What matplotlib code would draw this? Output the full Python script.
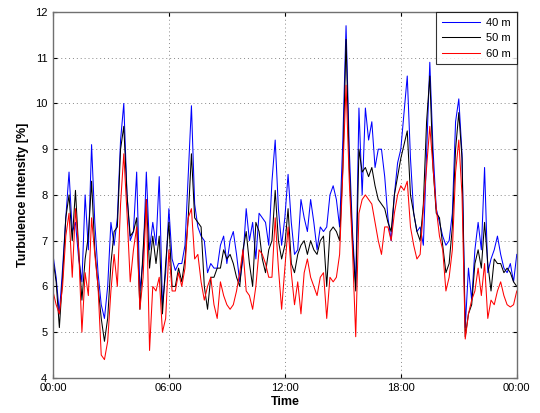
import matplotlib
matplotlib.use("Agg")
import matplotlib.pyplot as plt
import numpy as np

# 10-minute samples over one day (145 samples, 00:00 .. 24:00)
ti_40m = [6.7, 6.2, 5.4, 6.4, 7.5, 8.5, 7.2, 7.4, 6.6, 6.1,
          8.0, 6.8, 9.1, 7.4, 6.3, 5.6, 5.3, 6.0, 7.4, 6.9,
          7.5, 9.2, 10.0, 8.0, 7.0, 7.2, 8.5, 5.9, 6.6, 8.5,
          6.8, 7.4, 6.9, 8.4, 5.6, 6.3, 7.7, 6.6, 6.35, 6.5,
          6.5, 6.9, 8.4, 9.95, 7.8, 7.3, 7.1, 7.0, 6.3, 6.5,
          6.4, 6.4, 6.9, 7.1, 6.5, 7.0, 7.2, 6.7, 6.1, 6.6,
          7.7, 7.0, 7.4, 6.6, 7.6, 7.5, 7.4, 6.9, 8.3, 9.2,
          7.7, 6.9, 7.5, 8.45, 7.4, 6.7, 6.8, 7.9, 7.5, 7.2,
          7.9, 7.4, 6.8, 7.3, 7.2, 7.3, 8.0, 8.2, 7.9, 7.3,
          9.2, 11.7, 9.0, 7.2, 6.0, 9.9, 8.0, 9.9, 9.2, 9.6,
          8.6, 9.0, 9.0, 8.4, 7.5, 7.0, 8.0, 8.7, 9.0, 9.8,
          10.6, 8.8, 7.6, 7.2, 7.3, 6.9, 8.9, 10.9, 9.0, 7.7,
          7.4, 7.1, 6.9, 7.0, 7.6, 9.6, 10.1, 8.9, 5.1, 6.4,
          5.7, 6.8, 7.4, 6.8, 8.6, 6.3, 6.6, 6.8, 7.1, 6.7,
          6.4, 6.3, 6.5, 6.1, 6.7]

ti_50m = [6.6, 6.1, 5.1, 6.2, 7.5, 8.0, 7.0, 8.1, 6.8, 5.7,
          6.6, 7.1, 8.3, 6.8, 6.0, 5.3, 4.8, 5.3, 6.5, 7.2,
          7.3, 9.0, 9.5, 8.0, 7.1, 7.2, 7.5, 5.5, 6.8, 7.9,
          6.4, 7.1, 6.5, 7.1, 5.4, 6.5, 7.4, 6.0, 6.0, 6.4,
          6.1, 6.6, 7.5, 8.9, 7.5, 7.4, 7.3, 6.0, 5.5, 6.2,
          6.2, 6.4, 6.4, 6.8, 6.6, 6.7, 6.5, 6.2, 6.0, 6.8,
          7.2, 6.5, 6.0, 7.4, 7.2, 6.6, 6.3, 6.8, 7.0, 8.1,
          7.0, 6.6, 6.9, 7.7, 6.5, 6.3, 6.7, 6.9, 7.0, 6.7,
          7.0, 6.8, 6.7, 7.0, 7.1, 6.0, 7.2, 7.3, 7.2, 7.0,
          8.6, 11.4, 8.6, 7.0, 5.9, 9.0, 8.5, 8.6, 8.4, 8.6,
          8.2, 7.9, 7.8, 7.7, 7.4, 7.2, 8.0, 8.4, 8.8, 9.1,
          9.4, 8.0, 7.6, 7.2, 7.0, 7.8, 9.6, 10.6, 8.6, 7.6,
          7.5, 6.9, 6.3, 6.5, 7.3, 9.0, 9.8, 8.8, 4.9, 5.4,
          5.6, 6.5, 6.8, 6.4, 7.4, 6.5, 5.9, 6.6, 6.5, 6.5,
          6.3, 6.4, 6.3, 6.1, 6.0]

ti_60m = [5.9, 5.6, 5.4, 6.0, 7.1, 7.6, 6.2, 7.7, 6.8, 5.0,
          6.3, 5.8, 7.5, 6.7, 6.0, 4.5, 4.4, 4.8, 5.9, 6.7,
          6.0, 7.8, 8.9, 7.6, 6.1, 6.8, 7.3, 5.5, 6.2, 7.9,
          4.6, 6.0, 5.9, 6.2, 5.0, 5.3, 6.8, 5.9, 5.9, 6.3,
          6.0, 6.4, 7.5, 7.7, 6.6, 6.7, 6.1, 5.7, 6.0, 6.2,
          5.6, 5.3, 6.1, 5.8, 5.6, 5.5, 5.6, 5.9, 6.3, 6.8,
          5.9, 5.8, 5.5, 6.0, 6.8, 6.7, 6.5, 6.2, 6.2, 7.5,
          6.4, 5.5, 6.4, 7.3, 6.3, 5.6, 6.1, 5.4, 6.3, 6.6,
          6.2, 6.0, 5.8, 6.2, 6.3, 5.3, 6.2, 6.1, 6.2, 6.7,
          8.5, 10.4, 8.3, 6.8, 4.9, 7.6, 7.9, 8.0, 7.9, 7.8,
          7.4, 7.0, 6.7, 7.3, 7.3, 7.0, 7.6, 8.0, 8.2, 8.1,
          8.3, 7.3, 6.9, 6.6, 6.7, 7.7, 8.6, 9.5, 8.6, 7.7,
          7.1, 6.8, 5.9, 6.2, 6.8, 8.5, 9.2, 8.0, 4.85, 5.4,
          5.7, 5.9, 6.4, 5.8, 6.5, 5.3, 5.7, 5.6, 5.9, 6.1,
          5.8, 5.6, 5.55, 5.6, 5.9]

series_labels = ["40 m", "50 m", "60 m"]
series_colors = ["#0000ff", "#000000", "#ff0000"]
xtick_hours = [0, 6, 12, 18, 24]
xtick_labels = ["00:00", "06:00", "12:00", "18:00", "00:00"]
ytick_values = [4, 5, 6, 7, 8, 9, 10, 11, 12]

hours = np.arange(len(ti_40m)) / 6.0

plt.rcParams['font.family'] = ['Liberation Sans', 'DejaVu Sans']

fig = plt.figure(figsize=(5.40, 4.13), dpi=100)
ax = fig.add_axes([0.098, 0.085, 0.859, 0.886])

for vals, lab, col in zip([ti_40m, ti_50m, ti_60m], series_labels, series_colors):
    ax.plot(hours, vals, color=col, lw=0.75, label=lab)

ax.set_xlim(0, 24)
ax.set_ylim(4, 12)
ax.set_xticks(xtick_hours)
ax.set_xticklabels(xtick_labels)
ax.set_yticks(ytick_values)
ax.tick_params(direction='in', length=3, width=0.8, top=True, right=True,
               labelsize=8, colors='#000000')
ax.tick_params(axis='x', pad=4)
ax.tick_params(axis='y', pad=4)
for s in ax.spines.values():
    s.set_color('#707070')
    s.set_linewidth(1.0)
ax.grid(True, color='#888888', linestyle=(0, (1, 3)), linewidth=0.7)

ax.set_xlabel("Time", fontsize=9, fontweight='bold', labelpad=2)
ax.set_ylabel("Turbulence Intensity [%]", fontsize=9, fontweight='bold', labelpad=4)

leg = ax.legend(loc='upper right', fontsize=8, frameon=True, fancybox=False,
                borderaxespad=0, handlelength=3.4, handletextpad=0.6,
                labelspacing=0.5, borderpad=0.5)
leg.get_frame().set_edgecolor('#000000')
leg.get_frame().set_linewidth(0.8)

fig.savefig("out.png", dpi=100)
